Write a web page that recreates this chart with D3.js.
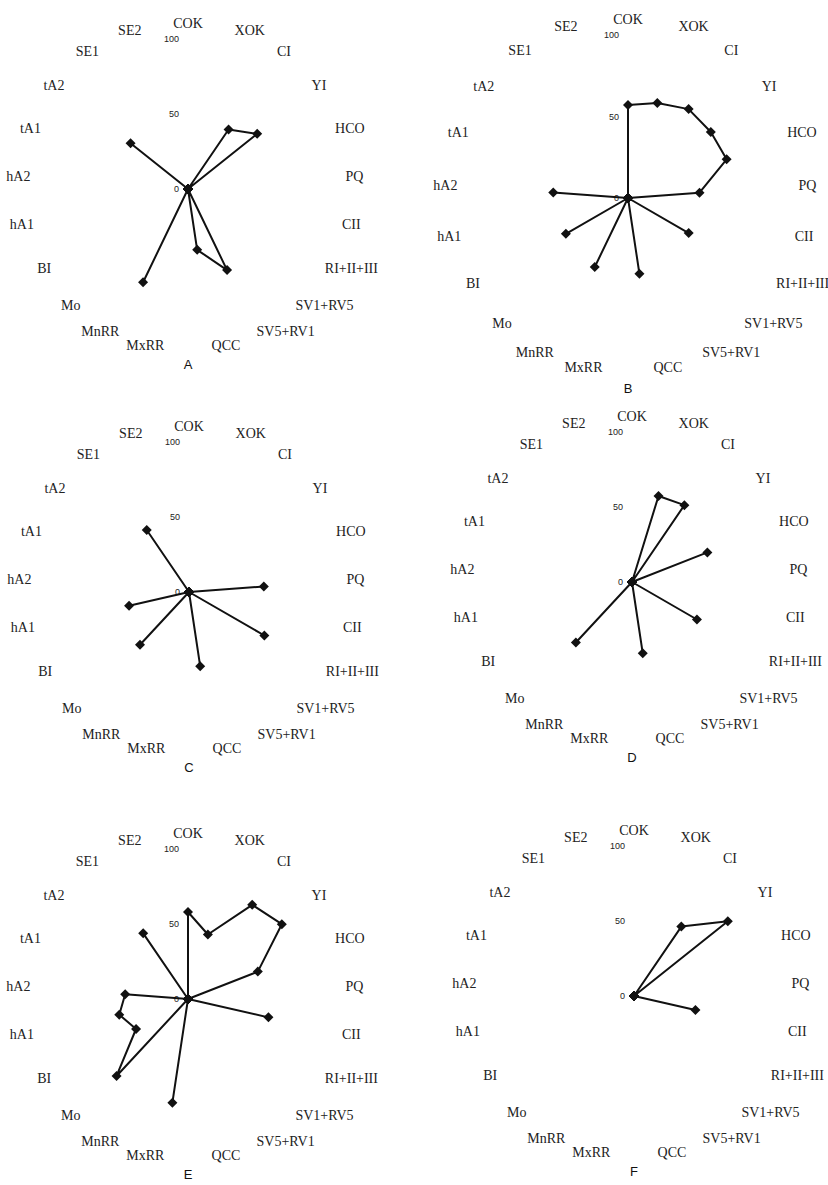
<html>
<head>
    <title>Radar charts A-F</title>
    <script src="https://cdn.jsdelivr.net/npm/d3@7"></script>
    <style type="text/css">
        body { margin: 0; background: #fff; }
        .axisLabel { font-family: "Liberation Serif", "DejaVu Serif", serif; font-size: 14px; fill: #222; }
        .tickLabel { font-family: "Liberation Sans", Arial, sans-serif; font-size: 9px; fill: #222; }
        .panelName { font-family: "Liberation Sans", Arial, sans-serif; font-size: 13px; fill: #111; }
        .series { fill: none; stroke: #111; stroke-width: 2; stroke-linejoin: round; }
    </style>
</head>
<body>
<div id="chart"></div>
<script type="text/javascript">
    // categories (clockwise from top)
    var axes = ["COK", "XOK", "CI", "YI", "HCO", "PQ", "CII", "RI+II+III", "SV1+RV5", "SV5+RV1",
        "QCC", "MxRR", "MnRR", "Mo", "BI", "hA1", "hA2", "tA1", "tA2", "SE1", "SE2"];
    var ticks = [0, 50, 100];
    var panelNames = ["A", "B", "C", "D", "E", "F"];

    // values per panel
    var valuesA = [0, 0, 48, 59, 0, 0, 0, 0, 0, 60, 41, 0, 69, 0, 0, 0, 0, 0, 49, 0, 0];
    var valuesB = [57, 61, 66, 65, 65, 44, 0, 43, 0, 0, 47, 0, 47, 0, 44, 0, 46, 0, 0, 0, 0];
    var valuesC = [0, 0, 0, 0, 0, 50, 0, 58, 0, 0, 50, 0, 0, 48, 0, 41, 0, 0, 0, 50, 0];
    var valuesD = [0, 60, 62, 0, 54, 0, 0, 50, 0, 0, 48, 0, 0, 55, 0, 0, 0, 0, 0, 0, 0];
    var valuesE = [58, 45, 76, 80, 50, 0, 55, 0, 0, 0, 0, 70, 0, 70, 40, 47, 42, 0, 0, 53, 0];
    var valuesF = [0, 0, 56, 80, 0, 0, 42, 0, 0, 0, 0, 0, 0, 0, 0, 0, 0, 0, 0, 0, 0];
    var allValues = [valuesA, valuesB, valuesC, valuesD, valuesE, valuesF];

    var w = 828;
    var h = 1185;
    // panel centres and radii (layout only)
    var layout = [
        {cx: 188, cy: 189, r: 150},
        {cx: 628, cy: 198, r: 163},
        {cx: 189, cy: 592, r: 150},
        {cx: 632, cy: 582, r: 150},
        {cx: 188, cy: 999, r: 150},
        {cx: 634, cy: 996, r: 150}
    ];

    var svg = d3.select("#chart")
        .append("svg")
        .attr("width", w)
        .attr("height", h);

    var angle = d3.scaleLinear()
        .domain([0, axes.length])
        .range([0, 2 * Math.PI]);

    panelNames.forEach(function (name, p) {
        var L = layout[p];
        var values = allValues[p];
        var rScale = d3.scaleLinear().domain([0, 100]).range([0, L.r]);

        var g = svg.append("g")
            .attr("transform", "translate(" + L.cx + "," + L.cy + ")");

        // category labels
        g.selectAll(".axisLabel")
            .data(axes)
            .enter()
            .append("text")
            .attr("class", "axisLabel")
            .attr("x", function (d, i) { return (L.r + 8) * Math.sin(angle(i)); })
            .attr("y", function (d, i) { return -(L.r + 8) * Math.cos(angle(i)); })
            .attr("dy", function (d, i) {
                var c = Math.cos(angle(i));
                return (0.35 - Math.max(c, 0) * 0.6) + "em";
            })
            .attr("text-anchor", function (d, i) {
                var s = Math.sin(angle(i));
                if (s > 0.1) return "start";
                if (s < -0.1) return "end";
                return "middle";
            })
            .text(function (d) { return d; });

        // radial tick labels
        g.selectAll(".tickLabel")
            .data(ticks)
            .enter()
            .append("text")
            .attr("class", "tickLabel")
            .attr("x", -9)
            .attr("y", function (d) { return -rScale(d); })
            .attr("dy", "0.35em")
            .attr("text-anchor", "end")
            .text(function (d) { return d; });

        var line = d3.lineRadial()
            .angle(function (d, i) { return angle(i); })
            .radius(function (d) { return rScale(d); })
            .curve(d3.curveLinearClosed);

        g.append("path")
            .datum(values)
            .attr("class", "series")
            .attr("d", line);

        var marker = d3.symbol().type(d3.symbolSquare).size(50);
        g.selectAll(".marker")
            .data(values)
            .enter()
            .append("path")
            .attr("class", "marker")
            .attr("d", marker)
            .attr("fill", "#111")
            .attr("transform", function (d, i) {
                var a = angle(i);
                var x = rScale(d) * Math.sin(a);
                var y = -rScale(d) * Math.cos(a);
                return "translate(" + x + "," + y + ") rotate(45)";
            });

        g.append("text")
            .attr("class", "panelName")
            .attr("x", 0)
            .attr("y", L.r * 1.17 + 4)
            .attr("text-anchor", "middle")
            .text(name);
    });
</script>
</body>
</html>
